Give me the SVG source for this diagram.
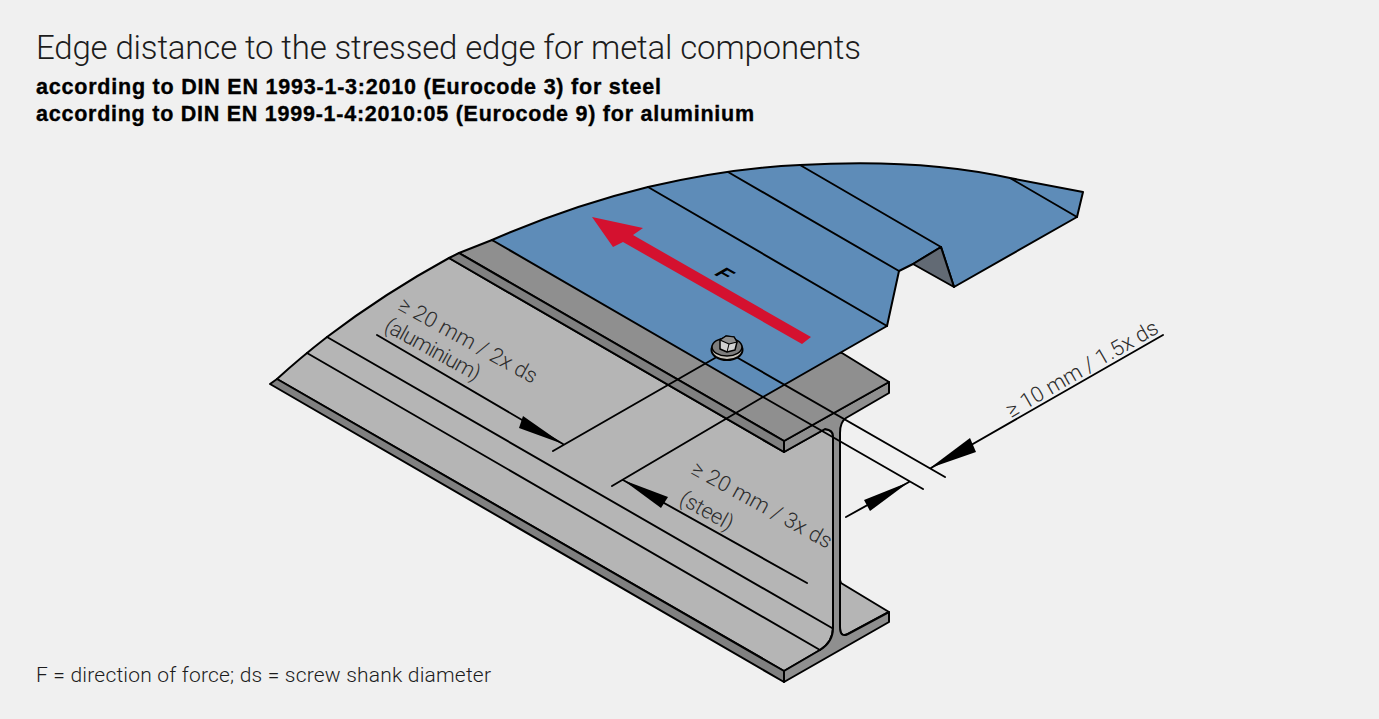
<svg xmlns="http://www.w3.org/2000/svg" width="1379" height="719" viewBox="0 0 1379 719">
<style>
.o{stroke:#000;stroke-width:2;stroke-linejoin:round;stroke-linecap:round}
.l{fill:none;stroke:#000;stroke-width:1.9;stroke-linecap:round}
.t{font-family:"Roboto","Liberation Sans",sans-serif;font-weight:300;fill:#1c1c1c}
.b{font-family:"Liberation Sans",sans-serif;font-weight:700;font-size:21.500px;fill:#000;stroke:#000;stroke-width:.35}
.d{font-family:"Roboto","Liberation Sans",sans-serif;font-weight:300;font-size:21.500px;fill:#2c2c2c}
</style>
<rect width="1379" height="719" fill="#f0f0f0"/>
<g id="title">
<text class="t" x="36" y="59" font-size="33" textLength="825">Edge distance to the stressed edge for metal components</text>
<text class="b" x="36" y="94" textLength="625">according to DIN EN 1993-1-3:2010 (Eurocode 3) for steel</text>
<text class="b" x="36" y="121" textLength="718">according to DIN EN 1999-1-4:2010:05 (Eurocode 9) for aluminium</text>
</g>
<text class="t" x="36" y="682" font-size="21" textLength="455">F = direction of force; ds = screw shank diameter</text>
<g id="beam">
<path class="o" fill="#b5b5b5" d="M277,379 Q300,358 327,337 Q385,293 449,258 L784,452 L825,429 Q833,430 833,436 L833,628 Q833,642 820,650 L784,671 Z"/>
<path class="o" fill="#808080" d="M270,384 L277,379 L784,671 L784,682 Z"/>
<path class="o" fill="#b5b5b5" d="M841,583 L889,612 L848,634 Q840,638 840,627 L840,433 L840,580 Z"/>
<path class="o" fill="#8f8f8f" d="M784,441 L889,382 L889,393 L846,418 Q840,422 840,433 L840,627 Q840,638 848,634 L889,612 L889,622 L784,682 L784,671 L820,650 Q833,642 833,628 L833,436 Q833,430 825,429 L784,452 Z"/>
<path class="o" fill="#8f8f8f" d="M459,253 L492,240 L842,353 L889,382 L784,441 Z"/>
<path class="o" fill="#808080" d="M449,258 L459,253 L784,441 L784,452 Z"/>
<path class="l" d="M307,353 L820,650 M327,337 L832,628"/>
</g>
<g id="sheet">
<path class="o" fill="#5e8cb8" d="M492,240 Q570,206 648,187 Q730,168 800,165 Q920,158 1010,178 L1083,192 L1077,217 L954,287 L941,247 L913,264 L899,271 L887,326 L763,397 Z"/>
<path class="o" fill="#626a74" d="M913,264 L941,247 L954,287 Z"/>
<path class="l" d="M648,187 L887,326 M728,172 L899,271 M800,165 L941,247 M1010,178 L1077,217"/>
<path fill="#d4112f" d="M592,217 L643,228 L633,235 L811,337 L802,344 L623,242 L613,247 Z"/>
<text transform="matrix(.866,.5,-.866,.5,713,274)" font-family="Liberation Sans,sans-serif" font-weight="700" font-size="21">F</text>
</g>
<g id="connectors">
<path class="l" d="M715,358 L553,451 M763,397 L612,486 M763,397 L923,489 M738,358 L945,477 M377,335 L563,444 M623,480 L807,583 M1163,335 L931,468 M846,517 L909,482"/>
<polygon points="563,444 523,416 519,428"/>
<polygon points="623,480 668,497 661,508"/>
<polygon points="930,468 970,438 976,452"/>
<polygon points="909,482 864,500 870,511"/>
</g>
<g id="bolt">
<ellipse cx="727" cy="350" rx="15.500" ry="10" fill="#c4c0b8" stroke="#000" stroke-width="2"/>
<ellipse cx="727" cy="347" rx="15" ry="9" fill="#7d7d7d" stroke="#000" stroke-width="1.500"/>
<polygon points="720,340 726,336 734,337 737,342 735,350 727,352 720,349" fill="#d2d2d2" stroke="#000" stroke-width="1.500" stroke-linejoin="round"/>
<polygon points="720,340 726,336 734,337 737,342 729,344" fill="#8f8f8f" stroke="#000" stroke-width="1.200" stroke-linejoin="round"/>
<path d="M729,344 L727,352" stroke="#000" stroke-width="1" fill="none"/>
</g>
<g id="labels">
<text class="d" transform="translate(397,309) rotate(29)" textLength="155">≥ 20 mm / 2x ds</text>
<text class="d" transform="translate(383,330) rotate(29)" textLength="106">(aluminium)</text>
<text class="d" transform="translate(690,473) rotate(29)" textLength="157">≥ 20 mm / 3x ds</text>
<text class="d" transform="translate(678,503) rotate(29)" textLength="58">(steel)</text>
<text class="d" transform="translate(1011,418) rotate(-30)" textLength="172">≥ 10 mm / 1.5x ds</text>
</g>
</svg>
